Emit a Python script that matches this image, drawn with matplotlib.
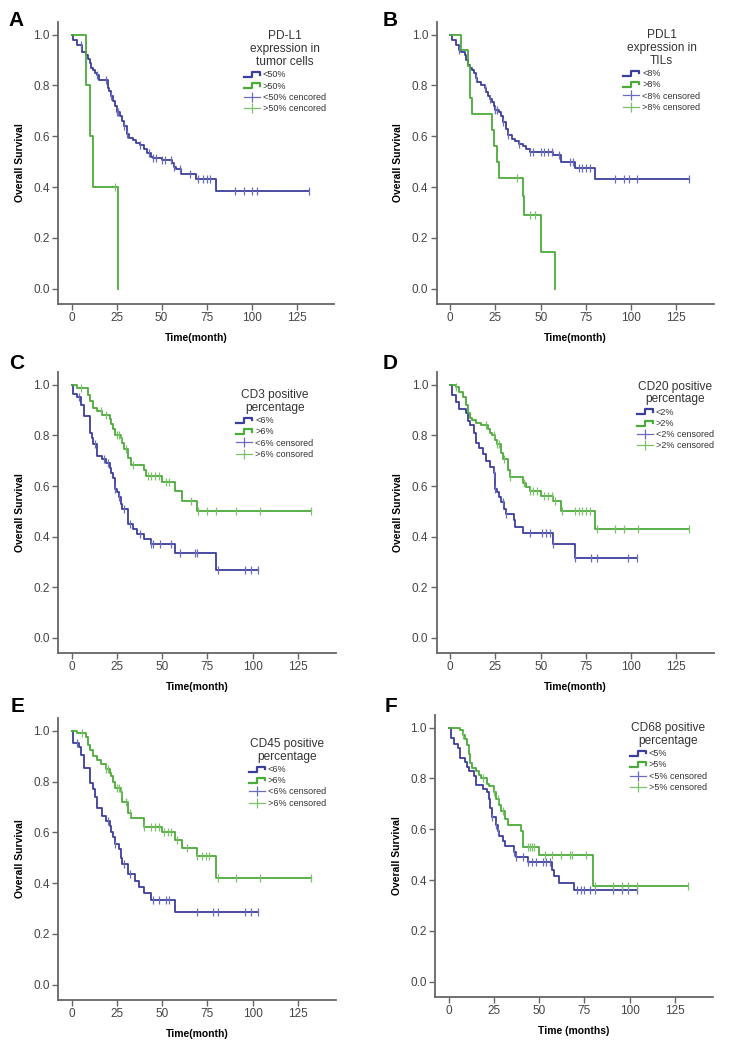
import numpy as np
import matplotlib
matplotlib.use("Agg")
import matplotlib.pyplot as plt
from matplotlib.lines import Line2D
from matplotlib.legend_handler import HandlerBase

plt.rcParams['font.family'] = ['Liberation Sans', 'DejaVu Sans']

# ---- data: event times (months) and survival after each event ----
# A: PD-L1 in tumor cells
a_lo_t = [1, 3, 6, 8, 9, 10, 11, 12, 13, 14, 15, 20, 21, 22, 23, 24, 25, 27, 28, 29, 31, 32, 34, 36, 38,
          40, 42, 44, 45, 50, 56, 57, 58, 61, 69, 80]
a_lo_s = [0.98, 0.96, 0.93, 0.92, 0.905, 0.89, 0.87, 0.86, 0.85, 0.84, 0.82, 0.79, 0.78, 0.76, 0.74, 0.72,
          0.695, 0.68, 0.66, 0.64, 0.61, 0.595, 0.585, 0.575, 0.565, 0.55, 0.535, 0.52, 0.515, 0.505, 0.495,
          0.48, 0.47, 0.45, 0.43, 0.385]
a_lo_c = [5, 14, 19, 22, 25, 26, 29, 31, 38, 43, 45, 47, 50, 52, 55, 57, 60, 66, 70, 73, 75, 77, 91, 96,
          100, 103, 132]
a_hi_t = [8, 10, 12, 26]
a_hi_s = [0.8, 0.6, 0.4, 0.0]
a_hi_c = [24]

# B: PDL1 in TILs
b_lo_t = [1, 3, 5, 6, 8, 9, 10, 11, 12, 13, 14, 15, 17, 19, 20, 21, 22, 23, 24, 25, 27, 28, 29, 31, 32,
          34, 36, 38, 40, 42, 44, 57, 61, 69, 80]
b_lo_s = [0.98, 0.96, 0.94, 0.93, 0.92, 0.90, 0.88, 0.87, 0.86, 0.85, 0.83, 0.815, 0.80, 0.79, 0.775,
          0.76, 0.745, 0.735, 0.72, 0.705, 0.695, 0.68, 0.655, 0.63, 0.605, 0.59, 0.58, 0.57, 0.56, 0.55,
          0.54, 0.525, 0.50, 0.475, 0.43]
b_lo_c = [5, 14, 19, 22, 25, 26, 29, 32, 38, 44, 46, 50, 52, 54, 56, 60, 66, 68, 71, 73, 75, 77, 91, 96,
          99, 103, 132]
b_hi_t = [6, 10, 11, 12, 23, 24, 26, 27, 40, 41, 50, 58]
b_hi_s = [0.94, 0.875, 0.75, 0.6875, 0.625, 0.5625, 0.50, 0.4375, 0.365, 0.292, 0.146, 0.0]
b_hi_c = [37, 44, 47]

# C: CD3 positive percentage
c_lo_t = [1, 3, 5, 7, 10, 11, 12, 14, 17, 19, 21, 22, 23, 24, 25, 26, 27, 28, 31, 34, 36, 40, 44, 57, 80]
c_lo_s = [0.965, 0.95, 0.92, 0.875, 0.81, 0.79, 0.765, 0.72, 0.705, 0.69, 0.67, 0.65, 0.63, 0.59, 0.575,
          0.555, 0.53, 0.51, 0.45, 0.43, 0.41, 0.39, 0.37, 0.337, 0.27]
c_lo_c = [4, 13, 18, 20, 24, 26, 29, 32, 38, 44, 45, 49, 55, 60, 68, 69, 81, 96, 99, 103]
c_hi_t = [3, 9, 10, 12, 14, 17, 21, 22, 23, 24, 27, 28, 29, 31, 33, 40, 41, 50, 57, 61, 69]
c_hi_s = [0.987, 0.96, 0.935, 0.91, 0.895, 0.88, 0.865, 0.845, 0.825, 0.80, 0.79, 0.77, 0.745, 0.71,
          0.685, 0.665, 0.64, 0.615, 0.58, 0.54, 0.50]
c_hi_c = [5, 16, 19, 25, 26, 27, 30, 34, 42, 44, 46, 48, 52, 54, 66, 70, 75, 80, 91, 104, 132]

# D: CD20 positive percentage
d_lo_t = [1, 3, 5, 9, 10, 11, 13, 14, 16, 18, 20, 22, 24, 25, 26, 27, 28, 30, 31, 35, 36, 40, 57, 69]
d_lo_s = [0.96, 0.93, 0.905, 0.89, 0.855, 0.84, 0.81, 0.77, 0.75, 0.725, 0.70, 0.675, 0.65, 0.59, 0.575,
          0.555, 0.535, 0.51, 0.49, 0.465, 0.44, 0.415, 0.37, 0.315]
d_lo_c = [24, 25, 29, 31, 44, 51, 53, 55, 57, 69, 78, 81, 98, 103]
d_hi_t = [3, 5, 7, 9, 10, 11, 12, 14, 17, 21, 22, 23, 25, 26, 28, 29, 32, 33, 40, 42, 44, 50, 57, 61, 80]
d_hi_s = [0.99, 0.97, 0.95, 0.92, 0.89, 0.87, 0.86, 0.85, 0.84, 0.825, 0.81, 0.80, 0.78, 0.765, 0.73,
          0.705, 0.665, 0.635, 0.61, 0.595, 0.58, 0.56, 0.54, 0.50, 0.43]
d_hi_c = [3, 20, 24, 26, 27, 30, 33, 41, 44, 46, 48, 52, 54, 56, 58, 62, 69, 71, 73, 75, 77, 81, 91, 96,
          104, 132]

# E: CD45 positive percentage
e_lo_t = [1, 4, 5, 7, 10, 12, 13, 14, 17, 19, 21, 22, 23, 24, 26, 27, 28, 31, 35, 37, 40, 44, 57]
e_lo_s = [0.95, 0.935, 0.905, 0.855, 0.795, 0.77, 0.74, 0.695, 0.665, 0.645, 0.625, 0.60, 0.58, 0.555,
          0.535, 0.50, 0.475, 0.435, 0.41, 0.385, 0.36, 0.335, 0.285]
e_lo_c = [3, 20, 24, 29, 32, 45, 48, 52, 54, 69, 78, 81, 96, 99, 103]
e_hi_t = [3, 8, 9, 10, 12, 14, 16, 19, 21, 22, 23, 24, 27, 28, 31, 33, 40, 50, 57, 61, 69, 80]
e_hi_s = [0.99, 0.975, 0.945, 0.925, 0.90, 0.885, 0.87, 0.85, 0.835, 0.82, 0.80, 0.775, 0.76, 0.72,
          0.675, 0.655, 0.62, 0.60, 0.57, 0.54, 0.505, 0.42]
e_hi_c = [6, 19, 20, 25, 26, 27, 30, 32, 40, 44, 46, 48, 51, 53, 55, 58, 64, 69, 72, 74, 76, 81, 91, 104,
          132]

# F: CD68 positive percentage
f_lo_t = [1, 3, 5, 6, 9, 10, 11, 14, 15, 19, 21, 22, 23, 24, 26, 27, 28, 30, 31, 36, 37, 44, 57, 58, 61, 69]
f_lo_s = [0.96, 0.935, 0.92, 0.88, 0.865, 0.845, 0.83, 0.81, 0.775, 0.76, 0.745, 0.72, 0.685, 0.65,
          0.615, 0.595, 0.575, 0.555, 0.535, 0.51, 0.49, 0.47, 0.44, 0.415, 0.39, 0.36]
f_lo_c = [24, 26, 27, 36, 37, 41, 44, 46, 48, 52, 54, 56, 71, 73, 75, 78, 81, 91, 96, 99, 104]
f_hi_t = [6, 8, 9, 10, 11, 12, 13, 15, 17, 18, 21, 22, 25, 26, 28, 29, 31, 33, 40, 41, 50, 80]
f_hi_s = [0.99, 0.97, 0.955, 0.93, 0.895, 0.86, 0.84, 0.83, 0.815, 0.80, 0.78, 0.77, 0.745, 0.72,
          0.695, 0.67, 0.64, 0.615, 0.595, 0.53, 0.50, 0.375]
f_hi_c = [8, 19, 25, 27, 30, 44, 45, 46, 47, 53, 57, 62, 67, 68, 76, 81, 91, 96, 99, 104, 132]

panels = [
    ("A", "PD-L1\nexpression in\ntumor cells", ["<50%", ">50%", "<50% cencored", ">50% cencored"],
     "Time(month)", (a_lo_t, a_lo_s, a_lo_c), (a_hi_t, a_hi_s, a_hi_c)),
    ("B", "PDL1\nexpression in\nTILs", ["<8%", ">8%", "<8% censored", ">8% censored"],
     "Time(month)", (b_lo_t, b_lo_s, b_lo_c), (b_hi_t, b_hi_s, b_hi_c)),
    ("C", "CD3 positive\npercentage", ["<6%", ">6%", "<6% censored", ">6% consored"],
     "Time(month)", (c_lo_t, c_lo_s, c_lo_c), (c_hi_t, c_hi_s, c_hi_c)),
    ("D", "CD20 positive\npercentage", ["<2%", ">2%", "<2% censored", ">2% censored"],
     "Time(month)", (d_lo_t, d_lo_s, d_lo_c), (d_hi_t, d_hi_s, d_hi_c)),
    ("E", "CD45 positive\npercentage", ["<6%", ">6%", "<6% censored", ">6% censored"],
     "Time(month)", (e_lo_t, e_lo_s, e_lo_c), (e_hi_t, e_hi_s, e_hi_c)),
    ("F", "CD68 positive\npercentage", ["<5%", ">5%", "<5% censored", ">5% censored"],
     "Time (months)", (f_lo_t, f_lo_s, f_lo_c), (f_hi_t, f_hi_s, f_hi_c)),
]

BLUE = "#3b3f9a"
GREEN = "#4caa3a"
BLUE_C = "#6a6cc0"
GREEN_C = "#7cc06a"

# layout (figure fractions): axes rectangles, legend anchors, letter positions
rects = [(0.079, 0.7105, 0.376, 0.2686), (0.594, 0.7105, 0.378, 0.2686),
         (0.079, 0.378, 0.378, 0.2676), (0.594, 0.378, 0.378, 0.2676),
         (0.079, 0.0476, 0.378, 0.2686), (0.592, 0.0505, 0.378, 0.2686)]
leg_anchor = [(0.82, 0.97), (0.81, 0.975), (0.78, 0.94), (0.86, 0.97), (0.825, 0.93), (0.84, 0.975)]
letters = [(0.012, 0.99), (0.52, 0.99), (0.012, 0.663), (0.52, 0.663), (0.015, 0.336), (0.523, 0.336)]


class StepHandler(HandlerBase):
    def create_artists(self, legend, orig_handle, xdescent, ydescent, width, height, fontsize, trans):
        x0 = -xdescent
        y0 = -ydescent
        xs = [x0, x0 + 0.5 * width, x0 + 0.5 * width, x0 + width, x0 + width]
        ys = [y0 + 0.05 * height, y0 + 0.05 * height, y0 + 0.85 * height, y0 + 0.85 * height, y0 + 0.45 * height]
        ln = Line2D(xs, ys, color=orig_handle.get_color(), lw=1.6, transform=trans)
        return [ln]


def km(ax, t, s, c, color, ccolor):
    t = np.asarray(t, float)
    s = np.asarray(s, float)
    c = np.asarray(c, float)
    tend = max(t[-1], c.max() if len(c) else 0)
    xs = np.r_[0, t, tend]
    ys = np.r_[1, s, s[-1]]
    ax.step(xs, ys, where='post', color=color, lw=1.3, zorder=3)
    idx = np.searchsorted(t, c, side='right')
    cy = np.r_[1, s][idx]
    ax.plot(c, cy, ls='none', marker='|', ms=5.5, mew=0.9, color=ccolor, zorder=4)


fig = plt.figure(figsize=(7.35, 10.5), dpi=100)

for i, (letter, title, labels, xlabel, lo, hi) in enumerate(panels):
    ax = fig.add_axes(rects[i])
    km(ax, *lo, BLUE, BLUE_C)
    km(ax, *hi, GREEN, GREEN_C)
    ax.set_xlim(-7.5, 146)
    ax.set_ylim(-0.06, 1.05)
    ax.set_xticks([0, 25, 50, 75, 100, 125])
    ax.set_yticks([0.0, 0.2, 0.4, 0.6, 0.8, 1.0])
    ax.set_yticklabels(["0.0", "0.2", "0.4", "0.6", "0.8", "1.0"])
    for side in ("top", "right"):
        ax.spines[side].set_visible(False)
    for side in ("left", "bottom"):
        ax.spines[side].set_color("#666666")
        ax.spines[side].set_linewidth(1.3)
    ax.tick_params(direction='out', length=4, width=1, color="#666666", labelsize=8.5,
                   labelcolor="#444444", pad=2)
    ax.set_xlabel(xlabel, fontsize=7.5, fontweight='bold', labelpad=6)
    ax.set_ylabel("Overall Survival", fontsize=7.5, fontweight='bold', labelpad=6)

    h_lo = Line2D([], [], color=BLUE)
    h_hi = Line2D([], [], color=GREEN)
    h_lo_c = Line2D([], [], color=BLUE_C, lw=0.9, marker='|', ms=7, mew=0.9)
    h_hi_c = Line2D([], [], color=GREEN_C, lw=0.9, marker='|', ms=7, mew=0.9)
    leg = ax.legend([h_lo, h_hi, h_lo_c, h_hi_c], labels, title=title, loc='upper center',
                    bbox_to_anchor=leg_anchor[i], frameon=False, fontsize=6.5,
                    title_fontsize=8.6, handlelength=1.8, handletextpad=0.3, labelspacing=0.25,
                    borderaxespad=0, borderpad=0,
                    handler_map={h_lo: StepHandler(), h_hi: StepHandler()})
    leg.get_title().set_multialignment('center')
    leg.get_title().set_color("#333333")
    leg.get_title().set_linespacing(1.1)
    for txt in leg.get_texts():
        txt.set_color("#333333")

    fig.text(letters[i][0], letters[i][1], letter, fontsize=15, fontweight='bold', va='top', ha='left')

fig.savefig("out.png", dpi=100)
